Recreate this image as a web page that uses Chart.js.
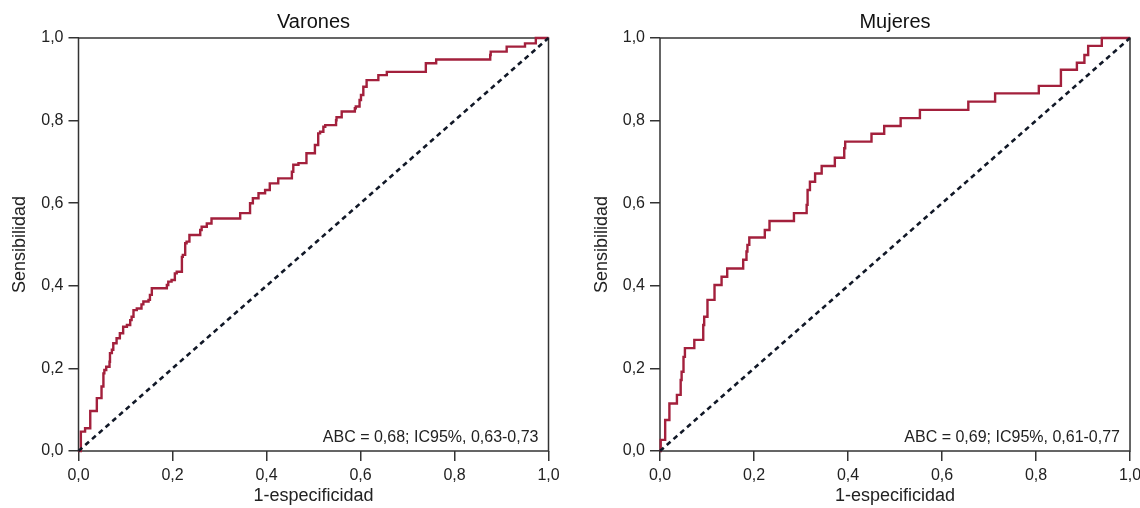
<!DOCTYPE html>
<html lang="es">
<head>
    <meta charset="UTF-8">
    <title>Curvas ROC - Varones y Mujeres</title>
    <script src="https://cdn.jsdelivr.net/npm/chart.js"></script>
    <style>
        body {
            margin: 0;
            background: #fff;
            width: 1140px;
            height: 508px;
            overflow: hidden;
            position: relative;
        }
        .panel {
            position: absolute;
            top: 0;
            height: 508px;
        }
        #panel-men { left: 0; width: 570px; }
        #panel-women { left: 570px; width: 590px; }
    </style>
</head>
<body>
    <div class="panel" id="panel-men"><canvas id="chart-men"></canvas></div>
    <div class="panel" id="panel-women"><canvas id="chart-women"></canvas></div>

    <script>
        // Datos (1-especificidad, sensibilidad)
        const menFpr = [0, 0.005, 0.005, 0.014, 0.014, 0.025, 0.025, 0.039, 0.039, 0.049, 0.053, 0.055, 0.059, 0.066, 0.067, 0.071, 0.074, 0.081, 0.088, 0.095, 0.103, 0.110, 0.113, 0.117, 0.124, 0.134, 0.138, 0.149, 0.152, 0.156, 0.158, 0.188, 0.191, 0.198, 0.205, 0.209, 0.220, 0.222, 0.227, 0.230, 0.236, 0.241, 0.259, 0.262, 0.273, 0.283, 0.294, 0.344, 0.344, 0.365, 0.365, 0.371, 0.383, 0.397, 0.407, 0.425, 0.439, 0.454, 0.457, 0.468, 0.485, 0.486, 0.503, 0.507, 0.510, 0.514, 0.521, 0.525, 0.528, 0.548, 0.549, 0.553, 0.560, 0.562, 0.588, 0.590, 0.598, 0.601, 0.606, 0.613, 0.620, 0.638, 0.640, 0.656, 0.657, 0.739, 0.741, 0.761, 0.762, 0.876, 0.877, 0.886, 0.911, 0.915, 0.950, 0.952, 0.973, 0.975, 1];
        const menTpr = [0, 0, 0.047, 0.047, 0.055, 0.055, 0.095, 0.097, 0.128, 0.128, 0.156, 0.188, 0.196, 0.204, 0.216, 0.237, 0.245, 0.261, 0.273, 0.285, 0.301, 0.305, 0.317, 0.325, 0.341, 0.345, 0.355, 0.362, 0.366, 0.378, 0.394, 0.394, 0.402, 0.410, 0.414, 0.430, 0.434, 0.470, 0.475, 0.503, 0.507, 0.523, 0.523, 0.535, 0.543, 0.551, 0.563, 0.563, 0.576, 0.576, 0.592, 0.600, 0.612, 0.624, 0.632, 0.648, 0.660, 0.660, 0.676, 0.693, 0.697, 0.721, 0.721, 0.741, 0.741, 0.769, 0.773, 0.785, 0.789, 0.789, 0.801, 0.808, 0.808, 0.822, 0.822, 0.830, 0.834, 0.850, 0.862, 0.882, 0.898, 0.898, 0.910, 0.910, 0.918, 0.918, 0.939, 0.939, 0.948, 0.948, 0.959, 0.967, 0.967, 0.979, 0.979, 0.987, 0.987, 1, 1];

        const womenFpr = [0, 0.0015, 0.0015, 0.011, 0.011, 0.013, 0.020, 0.021, 0.036, 0.036, 0.044, 0.046, 0.050, 0.053, 0.057, 0.073, 0.075, 0.092, 0.094, 0.096, 0.101, 0.103, 0.116, 0.117, 0.131, 0.133, 0.143, 0.145, 0.177, 0.179, 0.184, 0.186, 0.190, 0.192, 0.223, 0.223, 0.233, 0.233, 0.285, 0.285, 0.312, 0.314, 0.319, 0.323, 0.330, 0.330, 0.344, 0.346, 0.372, 0.374, 0.392, 0.394, 0.397, 0.450, 0.453, 0.477, 0.477, 0.512, 0.512, 0.553, 0.553, 0.656, 0.656, 0.713, 0.713, 0.806, 0.806, 0.853, 0.853, 0.887, 0.887, 0.903, 0.903, 0.911, 0.911, 0.940, 0.940, 1];
        const womenTpr = [0, 0, 0.027, 0.027, 0.055, 0.075, 0.075, 0.115, 0.115, 0.136, 0.136, 0.172, 0.192, 0.228, 0.249, 0.249, 0.269, 0.269, 0.305, 0.325, 0.325, 0.366, 0.366, 0.402, 0.402, 0.422, 0.422, 0.442, 0.442, 0.463, 0.463, 0.483, 0.499, 0.517, 0.517, 0.535, 0.535, 0.557, 0.557, 0.576, 0.576, 0.596, 0.632, 0.652, 0.652, 0.672, 0.672, 0.690, 0.690, 0.710, 0.710, 0.733, 0.749, 0.749, 0.768, 0.768, 0.787, 0.787, 0.806, 0.806, 0.826, 0.826, 0.846, 0.846, 0.866, 0.866, 0.884, 0.884, 0.923, 0.923, 0.940, 0.940, 0.959, 0.959, 0.981, 0.981, 1, 1];

        // Línea de referencia (azar)
        const chanceX = [0, 1];
        const chanceY = [0, 1];

        // Ejes
        const tickValues = [0, 0.2, 0.4, 0.6, 0.8, 1.0];
        const tickLabels = ['0,0', '0,2', '0,4', '0,6', '0,8', '1,0'];
        const xTitle = '1-especificidad';
        const yTitle = 'Sensibilidad';

        const menTitle = 'Varones';
        const womenTitle = 'Mujeres';
        const menAuc = 'ABC = 0,68; IC95%, 0,63-0,73';
        const womenAuc = 'ABC = 0,69; IC95%, 0,61-0,77';

        const FONT = '"Liberation Sans", Arial, sans-serif';
        const TEXT = '#222';
        const AXIS = '#333';

        const toPoints = (xs, ys) => xs.map((x, i) => ({ x: x, y: ys[i] }));

        // Marco completo alrededor del área del gráfico + texto del ABC
        const framePlugin = {
            id: 'frame',
            beforeDatasetsDraw(chart) {
                const { ctx, chartArea: a } = chart;
                ctx.save();
                ctx.strokeStyle = AXIS;
                ctx.lineWidth = 1.5;
                ctx.strokeRect(a.left, a.top, a.right - a.left, a.bottom - a.top);
                ctx.restore();
            },
            afterDraw(chart, args, opts) {
                const { ctx, chartArea: a } = chart;
                ctx.save();
                ctx.font = '16px ' + FONT;
                ctx.fillStyle = TEXT;
                ctx.textAlign = 'right';
                ctx.textBaseline = 'alphabetic';
                ctx.fillText(opts.text, a.right - 10, a.bottom - 9);
                ctx.restore();
            }
        };

        function makeChart(canvasId, title, fpr, tpr, auc, yWidth, yTitlePad, rightPad) {
            return new Chart(document.getElementById(canvasId), {
                type: 'scatter',
                data: {
                    datasets: [
                        {
                            data: toPoints(chanceX, chanceY),
                            showLine: true,
                            borderColor: '#111827',
                            borderWidth: 2.6,
                            borderDash: [5, 4],
                            pointRadius: 0,
                            clip: false,
                        },
                        {
                            data: toPoints(fpr, tpr),
                            showLine: true,
                            stepped: 'after',
                            borderColor: '#a3203c',
                            borderWidth: 2.4,
                            pointRadius: 0,
                            clip: false,
                        },
                    ],
                },
                options: {
                    responsive: true,
                    maintainAspectRatio: false,
                    animation: false,
                    layout: { padding: { left: 0, right: rightPad, top: 0, bottom: 0 } },
                    plugins: {
                        legend: { display: false },
                        tooltip: { enabled: false },
                        title: {
                            display: true,
                            text: title,
                            fullSize: false,
                            color: '#111',
                            font: { family: FONT, size: 20, weight: 'normal', lineHeight: 1.2 },
                            padding: { top: 10, bottom: 4 },
                        },
                        frame: { text: auc },
                    },
                    scales: {
                        x: {
                            type: 'linear',
                            min: 0,
                            max: 1,
                            afterBuildTicks: s => { s.ticks = tickValues.map(v => ({ value: v })); },
                            afterFit: s => { s.height = 57; },
                            ticks: {
                                callback: (v, i) => tickLabels[i],
                                color: TEXT,
                                font: { family: FONT, size: 16 },
                                padding: 5,
                                maxRotation: 0,
                            },
                            grid: { drawOnChartArea: false, drawTicks: true, tickLength: 10, color: AXIS, lineWidth: 1.5 },
                            border: { display: false },
                            title: {
                                display: true,
                                text: xTitle,
                                color: TEXT,
                                font: { family: FONT, size: 18 },
                                padding: { top: 0, bottom: 1 },
                            },
                        },
                        y: {
                            type: 'linear',
                            min: 0,
                            max: 1,
                            afterBuildTicks: s => { s.ticks = tickValues.map(v => ({ value: v })); },
                            afterFit: s => { s.width = yWidth; },
                            ticks: {
                                callback: (v, i) => tickLabels[i],
                                color: TEXT,
                                font: { family: FONT, size: 16 },
                                padding: 5,
                            },
                            grid: { drawOnChartArea: false, drawTicks: true, tickLength: 10, color: AXIS, lineWidth: 1.5 },
                            border: { display: false },
                            title: {
                                display: true,
                                text: yTitle,
                                color: TEXT,
                                font: { family: FONT, size: 18 },
                                padding: { top: yTitlePad, bottom: 0 },
                            },
                        },
                    },
                },
                plugins: [framePlugin],
            });
        }

        makeChart('chart-men', menTitle, menFpr, menTpr, menAuc, 78.5, 9, 21.5);
        makeChart('chart-women', womenTitle, womenFpr, womenTpr, womenAuc, 90, 21, 30);
    </script>
</body>
</html>
